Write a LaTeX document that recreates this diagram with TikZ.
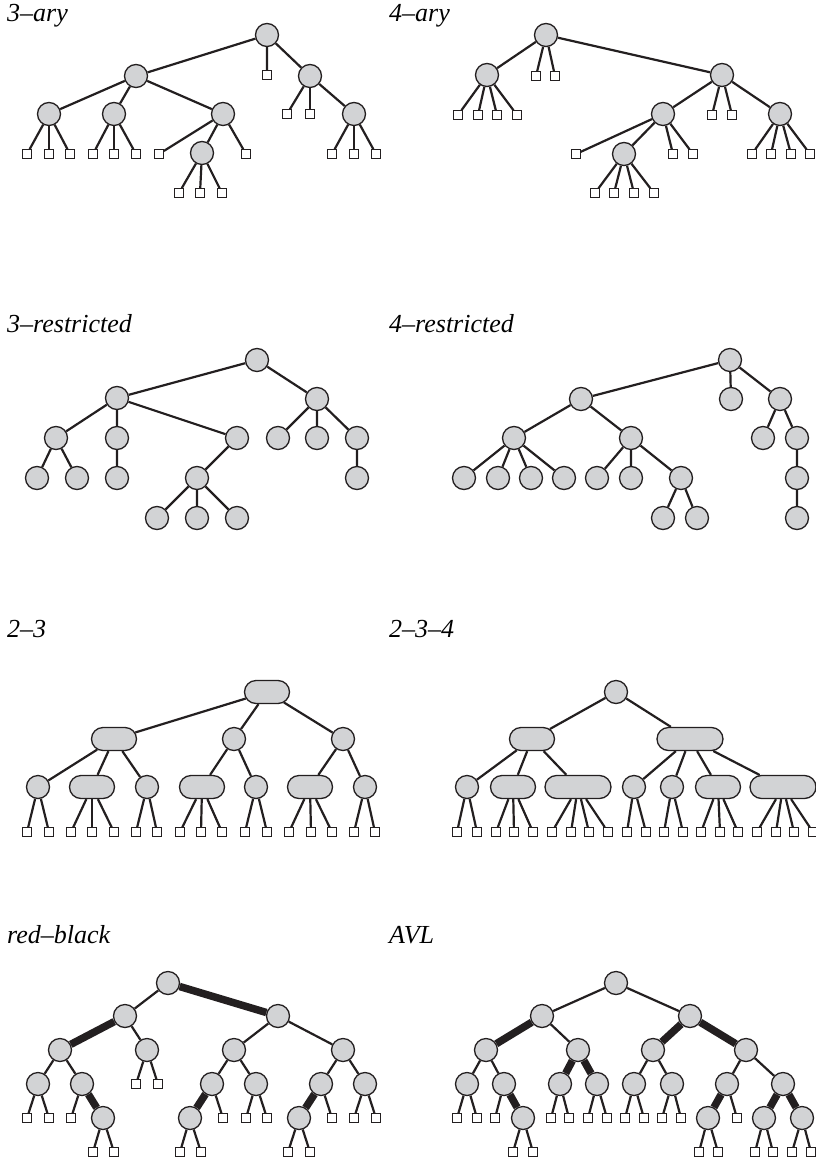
\documentclass[tikz,border=0pt]{standalone}
\usepackage{fontspec}
\usepackage{tikz}
\usetikzlibrary{shapes.misc}
\setmainfont{Liberation Serif}

\definecolor{ink}{HTML}{231F20}
\definecolor{nodegray}{RGB}{210,211,213}

\begin{document}
\begin{tikzpicture}[x=1pt,y=-1pt,
  inode/.style={circle,draw=ink,fill=nodegray,line width=1.3pt,minimum size=23pt,inner sep=0pt},
  keys2/.style={rounded rectangle,draw=ink,fill=nodegray,line width=1.3pt,minimum height=23pt,minimum width=45pt,inner sep=0pt},
  keys3/.style={keys2,minimum width=66pt},
  leafbox/.style={rectangle,draw=ink,fill=white,line width=1.1pt,minimum size=8.5pt,inner sep=0pt},
  edgeline/.style={draw=ink,line width=2.2pt},
  rbline/.style={draw=ink,line width=7.5pt},
  treename/.style={anchor=base west,inner sep=0pt,font=\fontsize{26}{30}\selectfont\itshape}]
\useasboundingbox (0,0) rectangle (816,1159);

% 3-ary
\node[treename] (n3ary) at (7,21) {3--ary};
\node[inode] (a0) at (267,35) {};
\node[inode] (a1) at (136,76) {};
\node[leafbox] (as1) at (267,75) {};
\node[inode] (a2) at (310,76) {};
\node[inode] (a11) at (49,114) {};
\node[inode] (a12) at (114,114) {};
\node[inode] (a13) at (223,114) {};
\node[inode] (a132) at (202,153) {};
\node[inode] (a23) at (354,114) {};
\draw[edgeline] (a0) -- (a1) (a0) -- (as1) (a0) -- (a2);
\draw[edgeline] (a1) -- (a11) (a1) -- (a12) (a1) -- (a13) (a13) -- (a132) (a2) -- (a23);
\foreach \x in {27,49,70} {\node[leafbox] (l) at (\x,154) {}; \draw[edgeline] (a11) -- (l);}
\foreach \x in {93,114,136} {\node[leafbox] (l) at (\x,154) {}; \draw[edgeline] (a12) -- (l);}
\foreach \x in {159,246} {\node[leafbox] (l) at (\x,154) {}; \draw[edgeline] (a13) -- (l);}
\foreach \x in {179,200,222} {\node[leafbox] (l) at (\x,193) {}; \draw[edgeline] (a132) -- (l);}
\foreach \x in {287,310} {\node[leafbox] (l) at (\x,114) {}; \draw[edgeline] (a2) -- (l);}
\foreach \x in {332,354,376} {\node[leafbox] (l) at (\x,154) {}; \draw[edgeline] (a23) -- (l);}

% 4-ary
\node[treename] (n4ary) at (389,21) {4--ary};
\node[inode] (b0) at (546,35) {};
\node[inode] (b1) at (487,75) {};
\node[inode] (b2) at (722,75) {};
\node[inode] (b21) at (663,114) {};
\node[inode] (b212) at (624,154) {};
\node[inode] (b24) at (780,114) {};
\draw[edgeline] (b0) -- (b1) (b0) -- (b2) (b2) -- (b21) (b2) -- (b24) (b21) -- (b212);
\foreach \x in {536,555} {\node[leafbox] (l) at (\x,76) {}; \draw[edgeline] (b0) -- (l);}
\foreach \x in {458,478,497,517} {\node[leafbox] (l) at (\x,115) {}; \draw[edgeline] (b1) -- (l);}
\foreach \x in {712,732} {\node[leafbox] (l) at (\x,115) {}; \draw[edgeline] (b2) -- (l);}
\foreach \x in {576,673,693} {\node[leafbox] (l) at (\x,154) {}; \draw[edgeline] (b21) -- (l);}
\foreach \x in {595,614,634,654} {\node[leafbox] (l) at (\x,193) {}; \draw[edgeline] (b212) -- (l);}
\foreach \x in {752,771,791,810} {\node[leafbox] (l) at (\x,154) {}; \draw[edgeline] (b24) -- (l);}

% 3-restricted
\node[treename] (n3res) at (7,332) {3--restricted};
\node[inode] (c0) at (257,360) {};
\node[inode] (c1) at (117,398) {};
\node[inode] (c2) at (317,399) {};
\node[inode] (c11) at (56,438) {};
\node[inode] (c12) at (117,438) {};
\node[inode] (c13) at (237,438) {};
\node[inode] (c111) at (37,478) {};
\node[inode] (c112) at (77,478) {};
\node[inode] (c121) at (117,478) {};
\node[inode] (c131) at (197,478) {};
\node[inode] (c1311) at (157,518) {};
\node[inode] (c1312) at (197,518) {};
\node[inode] (c1313) at (237,518) {};
\node[inode] (c21) at (278,438) {};
\node[inode] (c22) at (317,438) {};
\node[inode] (c23) at (357,438) {};
\node[inode] (c231) at (357,478) {};
\draw[edgeline] (c0) -- (c1) (c0) -- (c2) (c1) -- (c11) (c1) -- (c12) (c1) -- (c13);
\draw[edgeline] (c11) -- (c111) (c11) -- (c112) (c12) -- (c121) (c13) -- (c131);
\draw[edgeline] (c131) -- (c1311) (c131) -- (c1312) (c131) -- (c1313);
\draw[edgeline] (c2) -- (c21) (c2) -- (c22) (c2) -- (c23) (c23) -- (c231);

% 4-restricted
\node[treename] (n4res) at (389,332) {4--restricted};
\node[inode] (d0) at (730,360) {};
\node[inode] (d1) at (581,399) {};
\node[inode] (d2) at (731,399) {};
\node[inode] (d3) at (780,399) {};
\node[inode] (d11) at (514,438) {};
\node[inode] (d12) at (631,438) {};
\node[inode] (d111) at (464,478) {};
\node[inode] (d112) at (498,478) {};
\node[inode] (d113) at (531,478) {};
\node[inode] (d114) at (564,478) {};
\node[inode] (d121) at (597,478) {};
\node[inode] (d122) at (631,478) {};
\node[inode] (d123) at (681,478) {};
\node[inode] (d1231) at (663,518) {};
\node[inode] (d1232) at (697,518) {};
\node[inode] (d31) at (763,438) {};
\node[inode] (d32) at (797,438) {};
\node[inode] (d321) at (797,478) {};
\node[inode] (d3211) at (797,518) {};
\draw[edgeline] (d0) -- (d1) (d0) -- (d2) (d0) -- (d3) (d1) -- (d11) (d1) -- (d12);
\draw[edgeline] (d11) -- (d111) (d11) -- (d112) (d11) -- (d113) (d11) -- (d114);
\draw[edgeline] (d12) -- (d121) (d12) -- (d122) (d12) -- (d123) (d123) -- (d1231) (d123) -- (d1232);
\draw[edgeline] (d3) -- (d31) (d3) -- (d32) (d32) -- (d321) (d321) -- (d3211);

% 2-3
\node[treename] (n23) at (7,637) {2--3};
\node[keys2] (e0) at (267,692) {};
\node[keys2] (e1) at (114,739) {};
\node[inode] (e2) at (234,739) {};
\node[inode] (e3) at (343,739) {};
\node[inode] (e11) at (38,787) {};
\node[keys2] (e12) at (92,787) {};
\node[inode] (e13) at (147,787) {};
\node[keys2] (e21) at (202,787) {};
\node[inode] (e22) at (256,787) {};
\node[keys2] (e31) at (310,787) {};
\node[inode] (e32) at (365,787) {};
\draw[edgeline] (e0) -- (e1) (e0) -- (e2) (e0) -- (e3);
\draw[edgeline] (e1) -- (e11) (e1) -- (e12) (e1) -- (e13) (e2) -- (e21) (e2) -- (e22) (e3) -- (e31) (e3) -- (e32);
\foreach \p/\x in {e11/27,e11/49,e12/71,e12/92,e12/114,e13/136,e13/157,e21/180,e21/201,e21/222,
  e22/245,e22/267,e31/289,e31/311,e31/332,e32/354,e32/375}
  {\node[leafbox] (l) at (\x,832) {}; \draw[edgeline] (\p) -- (l);}

% 2-3-4
\node[treename] (n234) at (389,637) {2--3--4};
\node[inode] (f0) at (616,692) {};
\node[keys2] (f1) at (532,739) {};
\node[keys3] (f2) at (690,739) {};
\node[inode] (f11) at (467,787) {};
\node[keys2] (f12) at (513,787) {};
\node[keys3] (f13) at (578,787) {};
\node[inode] (f21) at (634,787) {};
\node[inode] (f22) at (672,787) {};
\node[keys2] (f23) at (718,787) {};
\node[keys3] (f24) at (783,787) {};
\draw[edgeline] (f0) -- (f1) (f0) -- (f2) (f1) -- (f11) (f1) -- (f12) (f1) -- (f13);
\draw[edgeline] (f2) -- (f21) (f2) -- (f22) (f2) -- (f23) (f2) -- (f24);
\foreach \p/\x in {f11/457,f11/477,f12/496,f12/514,f12/533,f13/552,f13/571,f13/589,f13/608,
  f21/627,f21/646,f22/664,f22/683,f23/701,f23/720,f23/738,f24/757,f24/776,f24/794,f24/813}
  {\node[leafbox] (l) at (\x,832) {}; \draw[edgeline] (\p) -- (l);}

% red-black
\node[treename] (nrb) at (7,943) {red--black};
\node[inode] (g0) at (168,983) {};
\node[inode] (g1) at (125,1016) {};
\node[inode] (g2) at (278,1016) {};
\node[inode] (g11) at (60,1050) {};
\node[inode] (g12) at (147,1050) {};
\node[inode] (g111) at (38,1084) {};
\node[inode] (g112) at (82,1084) {};
\node[inode] (g1122) at (103,1118) {};
\node[inode] (g21) at (234,1050) {};
\node[inode] (g22) at (343,1050) {};
\node[inode] (g211) at (212,1084) {};
\node[inode] (g212) at (256,1084) {};
\node[inode] (g2111) at (190,1118) {};
\node[inode] (g221) at (321,1084) {};
\node[inode] (g222) at (365,1084) {};
\node[inode] (g2211) at (299,1118) {};
\draw[edgeline] (g0) -- (g1) (g1) -- (g12) (g11) -- (g111) (g11) -- (g112);
\draw[edgeline] (g2) -- (g21) (g2) -- (g22) (g21) -- (g211) (g21) -- (g212) (g22) -- (g221) (g22) -- (g222);
\draw[rbline] (g0) -- (g2) (g1) -- (g11) (g112) -- (g1122) (g211) -- (g2111) (g221) -- (g2211);
\foreach \p/\x/\y in {g111/27/1118,g111/49/1118,g112/71/1118,g1122/93/1152,g1122/114/1152,
  g12/136/1084,g12/158/1084,g2111/180/1152,g2111/201/1152,g211/223/1118,g212/246/1118,g212/267/1118,
  g2211/288/1152,g2211/310/1152,g221/332/1118,g222/354/1118,g222/376/1118}
  {\node[leafbox] (l) at (\x,\y) {}; \draw[edgeline] (\p) -- (l);}

% AVL
\node[treename] (navl) at (389,943) {AVL};
\node[inode] (h0) at (616,983) {};
\node[inode] (h1) at (542,1016) {};
\node[inode] (h2) at (690,1016) {};
\node[inode] (h11) at (486,1050) {};
\node[inode] (h12) at (578,1050) {};
\node[inode] (h111) at (467,1084) {};
\node[inode] (h112) at (504,1084) {};
\node[inode] (h1122) at (523,1118) {};
\node[inode] (h121) at (560,1084) {};
\node[inode] (h122) at (597,1084) {};
\node[inode] (h21) at (653,1050) {};
\node[inode] (h22) at (746,1050) {};
\node[inode] (h211) at (634,1084) {};
\node[inode] (h212) at (672,1084) {};
\node[inode] (h221) at (727,1084) {};
\node[inode] (h222) at (783,1084) {};
\node[inode] (h2211) at (708,1118) {};
\node[inode] (h2221) at (764,1118) {};
\node[inode] (h2222) at (802,1118) {};
\draw[edgeline] (h0) -- (h1) (h0) -- (h2) (h1) -- (h12) (h11) -- (h111) (h11) -- (h112);
\draw[edgeline] (h21) -- (h211) (h21) -- (h212) (h22) -- (h221) (h22) -- (h222);
\draw[rbline] (h1) -- (h11) (h112) -- (h1122) (h12) -- (h121) (h12) -- (h122);
\draw[rbline] (h2) -- (h21) (h2) -- (h22) (h221) -- (h2211) (h222) -- (h2221) (h222) -- (h2222);
\foreach \p/\x/\y in {h111/457/1118,h111/477/1118,h112/495/1118,h1122/513/1152,h1122/533/1152,
  h121/551/1118,h121/569/1118,h122/588/1118,h122/607/1118,h211/625/1118,h211/644/1118,
  h212/662/1118,h212/681/1118,h2211/699/1152,h2211/718/1152,h221/737/1118,
  h2221/755/1152,h2221/773/1152,h2222/792/1152,h2222/811/1152}
  {\node[leafbox] (l) at (\x,\y) {}; \draw[edgeline] (\p) -- (l);}
\end{tikzpicture}
\end{document}
